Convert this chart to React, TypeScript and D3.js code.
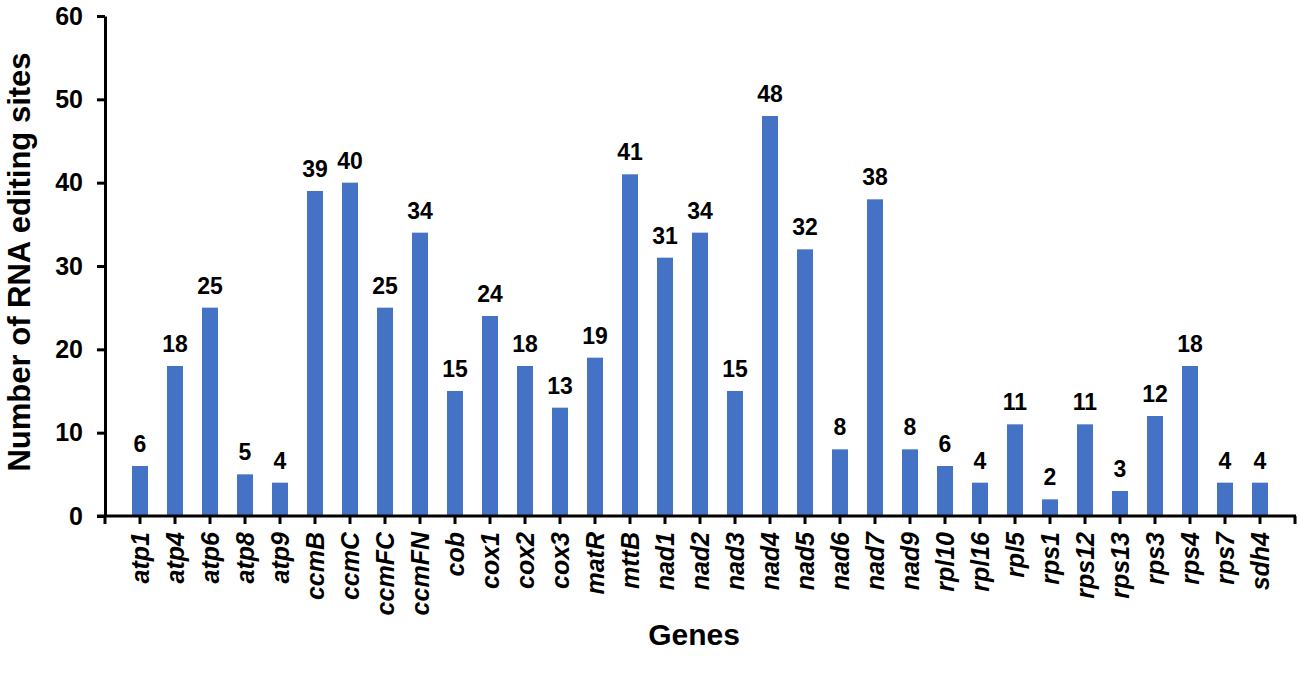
import { useEffect, useRef } from 'react';
import * as d3 from 'd3';

const genes = [
  'atp1', 'atp4', 'atp6', 'atp8', 'atp9', 'ccmB', 'ccmC', 'ccmFC', 'ccmFN', 'cob',
  'cox1', 'cox2', 'cox3', 'matR', 'mttB', 'nad1', 'nad2', 'nad3', 'nad4', 'nad5',
  'nad6', 'nad7', 'nad9', 'rpl10', 'rpl16', 'rpl5', 'rps1', 'rps12', 'rps13', 'rps3',
  'rps4', 'rps7', 'sdh4',
];
const sites = [
  6, 18, 25, 5, 4, 39, 40, 25, 34, 15,
  24, 18, 13, 19, 41, 31, 34, 15, 48, 32,
  8, 38, 8, 6, 4, 11, 2, 11, 3, 12,
  18, 4, 4,
];
const yTicks = [0, 10, 20, 30, 40, 50, 60];

const FONT = 'Arial, "Liberation Sans", sans-serif';

export default function App() {
  const svgRef = useRef<SVGSVGElement>(null);

  useEffect(() => {
    if (!svgRef.current) return;
    const W = 1299, H = 676;
    const left = 105, right = 1295, top = 16, bottom = 516;

    const svg = d3.select(svgRef.current).attr('width', W).attr('height', H);
    svg.selectAll('*').remove();

    const data = genes.map((g, i) => ({ gene: g, value: sites[i] }));

    const x = d3.scalePoint<string>().domain(genes).range([left, right]).padding(1);
    const y = d3.scaleLinear().domain([0, 60]).range([bottom, top]);
    const barW = 16;

    // Bars
    svg.append('g')
      .selectAll('rect')
      .data(data)
      .enter().append('rect')
      .attr('x', d => x(d.gene)! - barW / 2)
      .attr('y', d => y(d.value))
      .attr('width', barW)
      .attr('height', d => bottom - y(d.value))
      .attr('fill', '#4472c4');

    // Value labels
    svg.append('g')
      .selectAll('text')
      .data(data)
      .enter().append('text')
      .attr('x', d => x(d.gene)!)
      .attr('y', d => y(d.value) - 14)
      .attr('text-anchor', 'middle')
      .attr('font-family', FONT).attr('font-weight', 'bold').attr('font-size', 23)
      .attr('fill', '#000')
      .text(d => d.value);

    // Y axis
    const ya = svg.append('g')
      .attr('transform', `translate(${left},0)`)
      .call(d3.axisLeft(y).tickValues(yTicks).tickSize(8).tickPadding(14).tickSizeOuter(0));
    ya.select('.domain').attr('stroke', '#000').attr('stroke-width', 3);
    ya.selectAll('.tick line').attr('stroke', '#000').attr('stroke-width', 3);
    ya.selectAll('text')
      .attr('font-family', FONT).attr('font-weight', 'bold').attr('font-size', 25).attr('fill', '#000');

    // X axis line and ticks
    const xa = svg.append('g');
    xa.append('line')
      .attr('x1', left - 8).attr('x2', right + 1)
      .attr('y1', bottom).attr('y2', bottom)
      .attr('stroke', '#000').attr('stroke-width', 3);
    const tickXs = [left, ...genes.map(g => x(g)!), right];
    xa.selectAll('.xt')
      .data(tickXs)
      .enter().append('line')
      .attr('x1', d => d).attr('x2', d => d)
      .attr('y1', bottom).attr('y2', bottom + 8)
      .attr('stroke', '#000').attr('stroke-width', 3);

    // Gene labels
    xa.selectAll('.xl')
      .data(genes)
      .enter().append('text')
      .attr('transform', d => `translate(${x(d)! + 9},${bottom + 16}) rotate(-90)`)
      .attr('text-anchor', 'end')
      .attr('font-family', FONT).attr('font-weight', 'bold').attr('font-style', 'italic')
      .attr('font-size', 25).attr('fill', '#000')
      .text(d => d);

    // Axis titles
    svg.append('text')
      .attr('transform', `translate(30,${(top + bottom) / 2 - 4}) rotate(-90)`)
      .attr('text-anchor', 'middle')
      .attr('font-family', FONT).attr('font-weight', 'bold').attr('font-size', 31).attr('fill', '#000')
      .text('Number of RNA editing sites');

    svg.append('text')
      .attr('x', 694).attr('y', 645)
      .attr('text-anchor', 'middle')
      .attr('font-family', FONT).attr('font-weight', 'bold').attr('font-size', 30).attr('fill', '#000')
      .text('Genes');
  }, []);

  return (
    <div style={{ position: 'absolute', left: 0, top: 0, width: 1299, height: 676, background: '#fff' }}>
      <svg ref={svgRef} style={{ display: 'block' }} />
    </div>
  );
}
